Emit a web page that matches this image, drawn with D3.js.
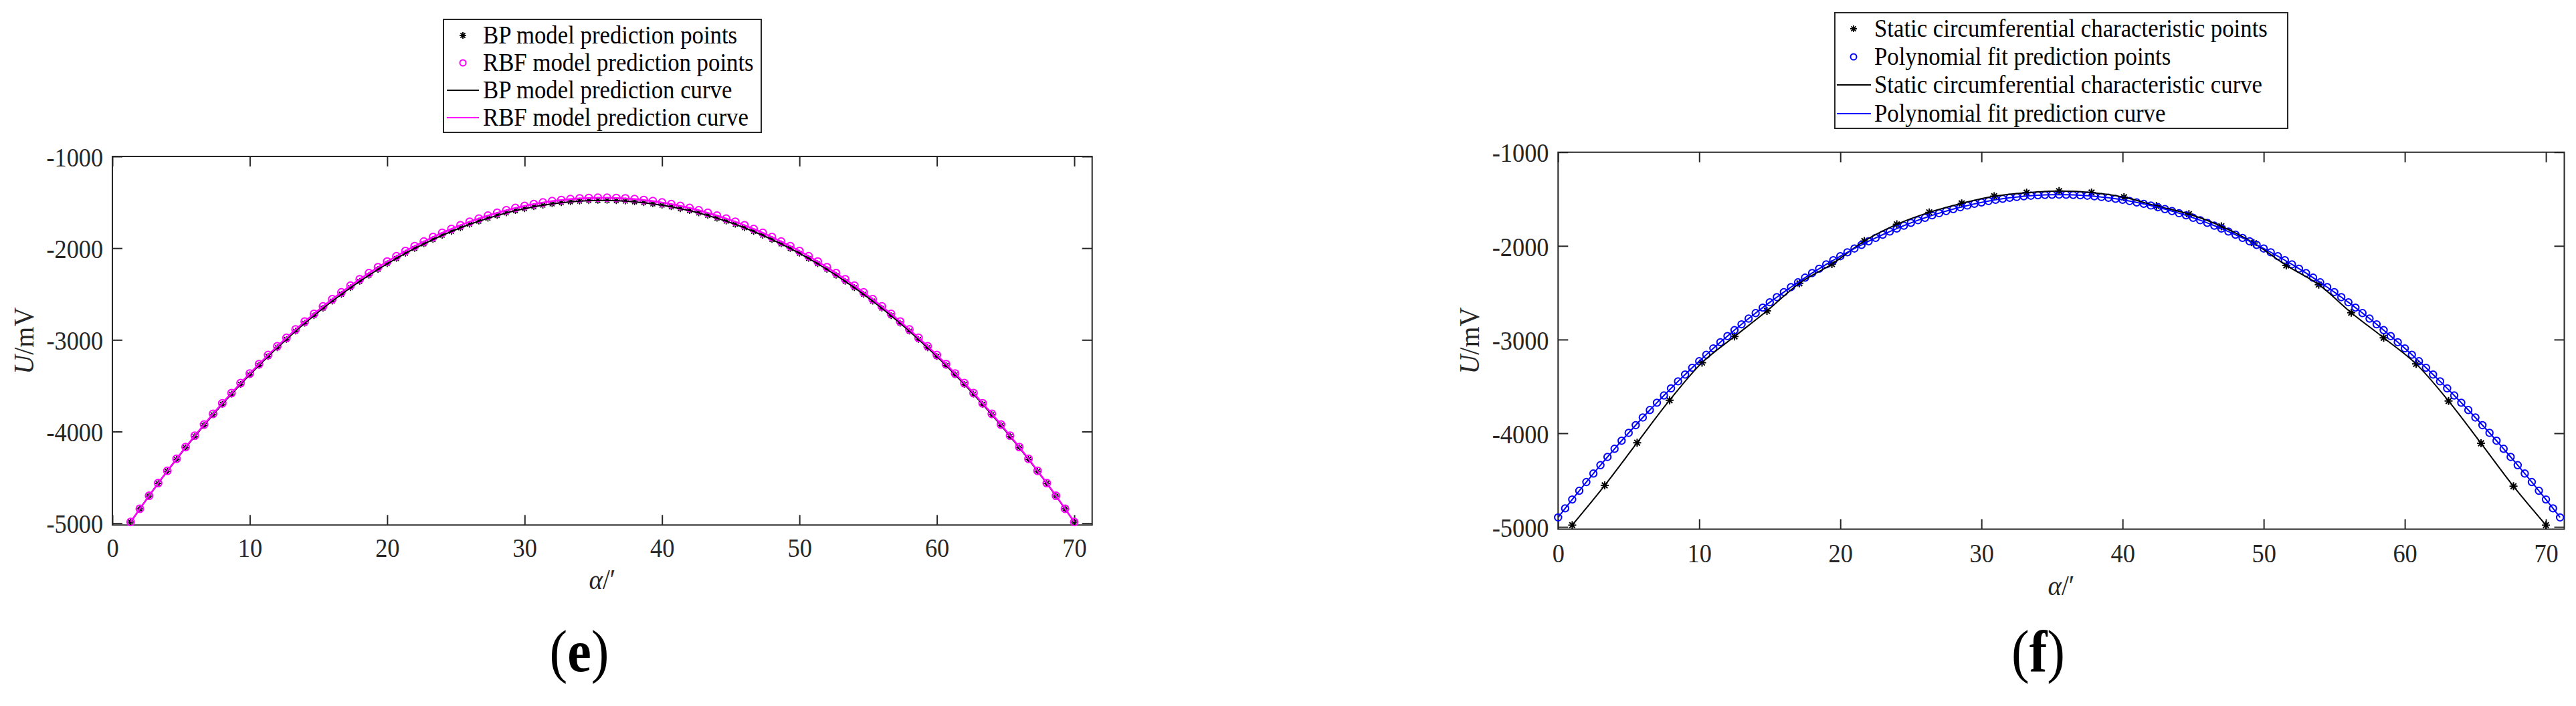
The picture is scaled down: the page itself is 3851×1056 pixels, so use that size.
<!DOCTYPE html>
<html>
<head>
  <meta charset="utf-8">
  <title>U vs alpha</title>
  <script src="https://d3js.org/d3.v7.min.js"></script>
  <style>
    body { margin: 0; background: #fff; }
    text { font-family: "Liberation Serif", "Times New Roman", serif; }
  </style>
</head>
<body>

<div id="vis"></div>

<script>
// ticks
var xTicks = [0, 10, 20, 30, 40, 50, 60, 70];
var yTicks = [-5000, -4000, -3000, -2000, -1000];

// (e) BP / RBF model prediction
var alphaE = [1.33,2,2.67,3.33,4,4.67,5.33,6,6.67,7.33,8,8.67,9.33,10,10.67,11.33,12,12.67,13.33,14,14.67,15.33,16,16.67,17.33,18,18.67,19.33,20,20.67,21.33,22,22.67,23.33,24,24.67,25.33,26,26.67,27.33,28,28.67,29.33,30,30.67,31.33,32,32.67,33.33,34,34.67,35.33,36,36.67,37.33,38,38.67,39.33,40,40.67,41.33,42,42.67,43.33,44,44.67,45.33,46,46.67,47.33,48,48.67,49.33,50,50.67,51.33,52,52.67,53.33,54,54.67,55.33,56,56.67,57.33,58,58.67,59.33,60,60.67,61.33,62,62.67,63.33,64,64.67,65.33,66,66.67,67.33,68,68.67,69.33,70];
var bpE = [-4987,-4843,-4703,-4566,-4433,-4303,-4176,-4053,-3933,-3816,-3702,-3592,-3485,-3381,-3279,-3181,-3086,-2995,-2905,-2819,-2736,-2655,-2578,-2503,-2431,-2362,-2296,-2232,-2170,-2112,-2056,-2004,-1954,-1906,-1860,-1818,-1778,-1740,-1706,-1674,-1644,-1616,-1591,-1570,-1549,-1532,-1517,-1505,-1495,-1487,-1483,-1480,
  -1480,-1483,-1487,-1495,-1505,-1517,-1532,-1549,-1570,-1591,-1616,-1644,-1674,-1706,-1740,-1778,-1818,-1860,-1906,-1954,-2004,-2056,-2112,-2170,-2232,-2296,-2362,-2431,-2503,-2578,-2655,-2736,-2819,-2905,-2995,-3086,-3181,-3279,-3381,-3485,-3592,-3702,-3816,-3933,-4053,-4176,-4303,-4433,-4566,-4703,-4843,-4987];
var rbfE = [-4986,-4841,-4700,-4562,-4428,-4297,-4169,-4045,-3924,-3806,-3691,-3580,-3472,-3367,-3265,-3166,-3070,-2978,-2887,-2800,-2717,-2635,-2557,-2482,-2409,-2339,-2273,-2208,-2146,-2088,-2031,-1978,-1928,-1879,-1833,-1791,-1750,-1712,-1678,-1645,-1615,-1587,-1562,-1540,-1520,-1502,-1487,-1475,-1465,-1457,-1453,-1450,
  -1450,-1453,-1457,-1465,-1475,-1487,-1502,-1520,-1540,-1562,-1587,-1615,-1645,-1678,-1712,-1750,-1791,-1833,-1879,-1928,-1978,-2031,-2088,-2146,-2208,-2273,-2339,-2409,-2482,-2557,-2635,-2717,-2800,-2887,-2978,-3070,-3166,-3265,-3367,-3472,-3580,-3691,-3806,-3924,-4045,-4169,-4297,-4428,-4562,-4700,-4841,-4986];

// (f) static characteristic vs polynomial fit
var alphaStar = [1,3.3,5.6,7.9,10.2,12.5,14.8,17.1,19.4,21.7,24,26.3,28.6,30.9,33.2,35.5,37.8,40.1,42.4,44.7,47,49.3,51.6,53.9,56.2,58.5,60.8,63.1,65.4,67.7,70];
var staticF = [-4981,-4557,-4101,-3648,-3246,-2967,-2694,-2399,-2194,-1948,-1770,-1642,-1546,-1470,-1432,-1415,-1430,-1480,-1574,-1661,-1790,-1970,-2208,-2413,-2713,-2981,-3260,-3656,-4107,-4566,-4981];
var alphaFit = [0,0.5,1,1.5,2,2.5,3,3.5,4,4.5,5,5.5,6,6.5,7,7.5,8,8.5,9,9.5,10,10.5,11,11.5,12,12.5,13,13.5,14,14.5,15,15.5,16,16.5,17,17.5,18,18.5,19,19.5,20,20.5,21,21.5,22,22.5,23,23.5,24,24.5,25,25.5,26,26.5,27,27.5,28,28.5,29,29.5,30,30.5,31,31.5,32,32.5,33,33.5,34,34.5,35,35.5,36,36.5,37,37.5,38,38.5,39,39.5,40,40.5,41,41.5,42,42.5,43,43.5,44,44.5,45,45.5,46,46.5,47,47.5,48,48.5,49,49.5,50,50.5,51,51.5,52,52.5,53,53.5,54,54.5,55,55.5,56,56.5,57,57.5,58,58.5,59,59.5,60,60.5,61,61.5,62,62.5,63,63.5,64,64.5,65,65.5,66,66.5,67,67.5,68,68.5,69,69.5,70,70.5,71];
var fitF = [-4899,-4802,-4707,-4614,-4521,-4430,-4341,-4253,-4166,-4080,-3996,-3914,-3832,-3752,-3674,-3597,-3521,-3446,-3373,-3301,-3231,-3162,-3094,-3028,-2963,-2899,-2837,-2776,-2717,-2659,-2602,-2547,-2493,-2440,-2389,-2339,-2290,-2243,-2197,-2153,-2110,-2068,-2028,-1989,-1951,-1915,-1880,-1847,-1815,-1784,-1754,-1726,-1700,-1674,-1651,-1628,-1607,-1587,-1569,-1551,-1536,-1521,-1508,-1497,-1486,-1478,-1470,-1464,-1459,-1456,-1454,
  -1453,
  -1454,-1456,-1459,-1464,-1470,-1478,-1486,-1497,-1508,-1521,-1536,-1551,-1569,-1587,-1607,-1628,-1651,-1674,-1700,-1726,-1754,-1784,-1815,-1847,-1880,-1915,-1951,-1989,-2028,-2068,-2110,-2153,-2197,-2243,-2290,-2339,-2389,-2440,-2493,-2547,-2602,-2659,-2717,-2776,-2837,-2899,-2963,-3028,-3094,-3162,-3231,-3301,-3373,-3446,-3521,-3597,-3674,-3752,-3832,-3914,-3996,-4080,-4166,-4253,-4341,-4430,-4521,-4614,-4707,-4802,-4899];

var legendE = ["BP model prediction points", "RBF model prediction points", "BP model prediction curve", "RBF model prediction curve"];
var legendF = ["Static circumferential characteristic points", "Polynomial fit prediction points", "Static circumferential characteristic curve", "Polynomial fit prediction curve"];

var svg = d3.select("div#vis").append("svg")
  .attr("width", 3851)
  .attr("height", 1056);

function starPath(r) {
  var a = r * 0.7071;
  return "M" + (-r) + ",0H" + r + "M0," + (-r) + "V" + r +
    "M" + (-a) + "," + (-a) + "L" + a + "," + a +
    "M" + (-a) + "," + a + "L" + a + "," + (-a);
}

function styleAxis(sel) {
  sel.select(".domain").remove();
  sel.attr("font-size", 39.5).attr("font-family", "Liberation Serif, serif").style("color", "#262626");
  sel.selectAll("line").attr("stroke-width", 2);
}

function drawPanel(p) {
  var x = d3.scaleLinear().domain([0, p.xmax]).range([p.left, p.right]);
  var y = d3.scaleLinear().domain([p.ymin, -1000]).range([p.bottom, p.top]);
  var g = svg.append("g");

  g.append("clipPath").attr("id", p.id + "clip").append("rect")
    .attr("x", p.left).attr("y", p.top)
    .attr("width", p.right - p.left).attr("height", p.bottom - p.top);

  // ticks on all four sides, pointing inward
  g.append("g").attr("transform", "translate(0," + p.bottom + ")")
    .call(d3.axisBottom(x).tickValues(xTicks).tickSizeInner(-15).tickSizeOuter(0).tickFormat(function(d) { return d; }))
    .call(styleAxis)
    .selectAll("text").attr("y", p.xTickBase).attr("dy", null).attr("transform", "scale(0.92,1)");

  g.append("g").attr("transform", "translate(0," + p.top + ")")
    .call(d3.axisTop(x).tickValues(xTicks).tickSizeInner(-15).tickSizeOuter(0).tickFormat(""))
    .call(styleAxis);

  g.append("g").attr("transform", "translate(" + p.left + ",0)")
    .call(d3.axisLeft(y).tickValues(yTicks).tickSizeInner(-15).tickSizeOuter(0).tickFormat(function(d) { return String(d); }))
    .call(styleAxis)
    .selectAll("text").attr("x", -15).attr("dy", "0.36em").attr("transform", "scale(0.92,1)");

  g.append("g").attr("transform", "translate(" + p.right + ",0)")
    .call(d3.axisRight(y).tickValues(yTicks).tickSizeInner(-15).tickSizeOuter(0).tickFormat(""))
    .call(styleAxis);

  g.append("rect")
    .attr("x", p.left).attr("y", p.top)
    .attr("width", p.right - p.left).attr("height", p.bottom - p.top)
    .attr("fill", "none").attr("stroke", "#262626").attr("stroke-width", 2);

  // series, in legend order
  p.series.forEach(function(s) {
    var pts = d3.zip(s.x, s.y);
    if (s.type === "star") {
      g.append("g").selectAll("path").data(pts).enter().append("path")
        .attr("d", starPath(s.r))
        .attr("transform", function(d) { return "translate(" + x(d[0]) + "," + y(d[1]) + ")"; })
        .attr("fill", "none").attr("stroke", s.color).attr("stroke-width", s.w);
    } else if (s.type === "circle") {
      g.append("g").selectAll("circle").data(pts).enter().append("circle")
        .attr("cx", function(d) { return x(d[0]); })
        .attr("cy", function(d) { return y(d[1]); })
        .attr("r", s.r)
        .attr("fill", "none").attr("stroke", s.color).attr("stroke-width", s.w);
    } else {
      var line = d3.line()
        .x(function(d) { return x(d[0]); })
        .y(function(d) { return y(d[1]); })
        .curve(s.curve || d3.curveLinear);
      g.append("path").datum(pts)
        .attr("clip-path", "url(#" + p.id + "clip)")
        .attr("d", line)
        .attr("fill", "none").attr("stroke", s.color).attr("stroke-width", s.w);
    }
  });

  // axis titles
  var yl = svg.append("text")
    .attr("transform", "translate(" + p.yLabX + "," + ((p.top + p.bottom) / 2) + ") rotate(-90) scale(0.93,1)")
    .attr("text-anchor", "middle").attr("font-size", 43).attr("fill", "#262626");
  yl.append("tspan").attr("font-style", "italic").text("U");
  yl.append("tspan").text("/mV");

  var xl = svg.append("text")
    .attr("transform", "translate(" + ((p.left + p.right) / 2) + "," + p.xLabBase + ") scale(0.93,1)")
    .attr("text-anchor", "middle").attr("font-size", 42).attr("fill", "#262626");
  xl.append("tspan").attr("font-style", "italic").text("α");
  xl.append("tspan").text("/′");

  // panel letter
  var pl = svg.append("text")
    .attr("transform", "translate(" + p.tagX + ",1004) scale(0.91,1)")
    .attr("text-anchor", "middle").attr("font-size", 88).attr("fill", "#000");
  pl.append("tspan").text("(");
  pl.append("tspan").attr("font-weight", "bold").text(p.tag);
  pl.append("tspan").text(")");

  drawLegend(p.legend);
}

function drawLegend(l) {
  svg.append("rect")
    .attr("x", l.x0).attr("y", l.y0)
    .attr("width", l.x1 - l.x0).attr("height", l.y1 - l.y0)
    .attr("fill", "#fff").attr("stroke", "#262626").attr("stroke-width", 2);

  l.items.forEach(function(it, i) {
    var base = l.base[i];
    var my = base - 12;
    if (it.type === "star") {
      svg.append("path").attr("d", starPath(5))
        .attr("transform", "translate(" + l.mx + "," + my + ")")
        .attr("fill", "none").attr("stroke", it.color).attr("stroke-width", 1.8);
    } else if (it.type === "circle") {
      svg.append("circle").attr("cx", l.mx).attr("cy", my).attr("r", 4.5)
        .attr("fill", "none").attr("stroke", it.color).attr("stroke-width", 2);
    } else {
      svg.append("line").attr("x1", l.lx0).attr("x2", l.lx1).attr("y1", my).attr("y2", my)
        .attr("stroke", it.color).attr("stroke-width", 2);
    }
    svg.append("text")
      .attr("transform", "translate(" + l.tx + "," + base + ") scale(0.94,1)")
      .attr("font-size", 37).attr("fill", "#000")
      .text(it.label);
  });
}

drawPanel({
  id: "e", tag: "e", tagX: 866,
  left: 168, right: 1632.7, top: 234, bottom: 785.3,
  xmax: 71.3, ymin: -5019,
  xTickBase: 48, yLabX: 50, xLabBase: 881,
  series: [
    { type: "star", x: alphaE, y: bpE, color: "#000", r: 5, w: 1.6 },
    { type: "circle", x: alphaE, y: rbfE, color: "#ff00ff", r: 5.5, w: 2 },
    { type: "line", x: alphaE, y: bpE, color: "#000", w: 2 },
    { type: "line", x: alphaE, y: rbfE, color: "#ff00ff", w: 2.5 }
  ],
  legend: {
    x0: 663, x1: 1138, y0: 29, y1: 198,
    tx: 722, mx: 692, lx0: 668, lx1: 716,
    base: [65, 106, 147, 188],
    items: [
      { type: "star", color: "#000", label: legendE[0] },
      { type: "circle", color: "#ff00ff", label: legendE[1] },
      { type: "line", color: "#000", label: legendE[2] },
      { type: "line", color: "#ff00ff", label: legendE[3] }
    ]
  }
});

drawPanel({
  id: "f", tag: "f", tagX: 3047,
  left: 2329.3, right: 3833.5, top: 227.7, bottom: 791.5,
  xmax: 71.3, ymin: -5024,
  xTickBase: 49.5, yLabX: 2211, xLabBase: 890,
  series: [
    { type: "star", x: alphaStar, y: staticF, color: "#000", r: 6, w: 2 },
    { type: "circle", x: alphaFit, y: fitF, color: "#0000ff", r: 5.2, w: 2 },
    { type: "line", x: alphaStar, y: staticF, color: "#000", w: 2, curve: d3.curveCatmullRom.alpha(0.5) },
    { type: "line", x: alphaFit, y: fitF, color: "#0000ff", w: 2 }
  ],
  legend: {
    x0: 2743, x1: 3420, y0: 19, y1: 192,
    tx: 2802, mx: 2771, lx0: 2746, lx1: 2797,
    base: [55, 97, 139, 182],
    items: [
      { type: "star", color: "#000", label: legendF[0] },
      { type: "circle", color: "#0000ff", label: legendF[1] },
      { type: "line", color: "#000", label: legendF[2] },
      { type: "line", color: "#0000ff", label: legendF[3] }
    ]
  }
});
</script>

</body>
</html>
